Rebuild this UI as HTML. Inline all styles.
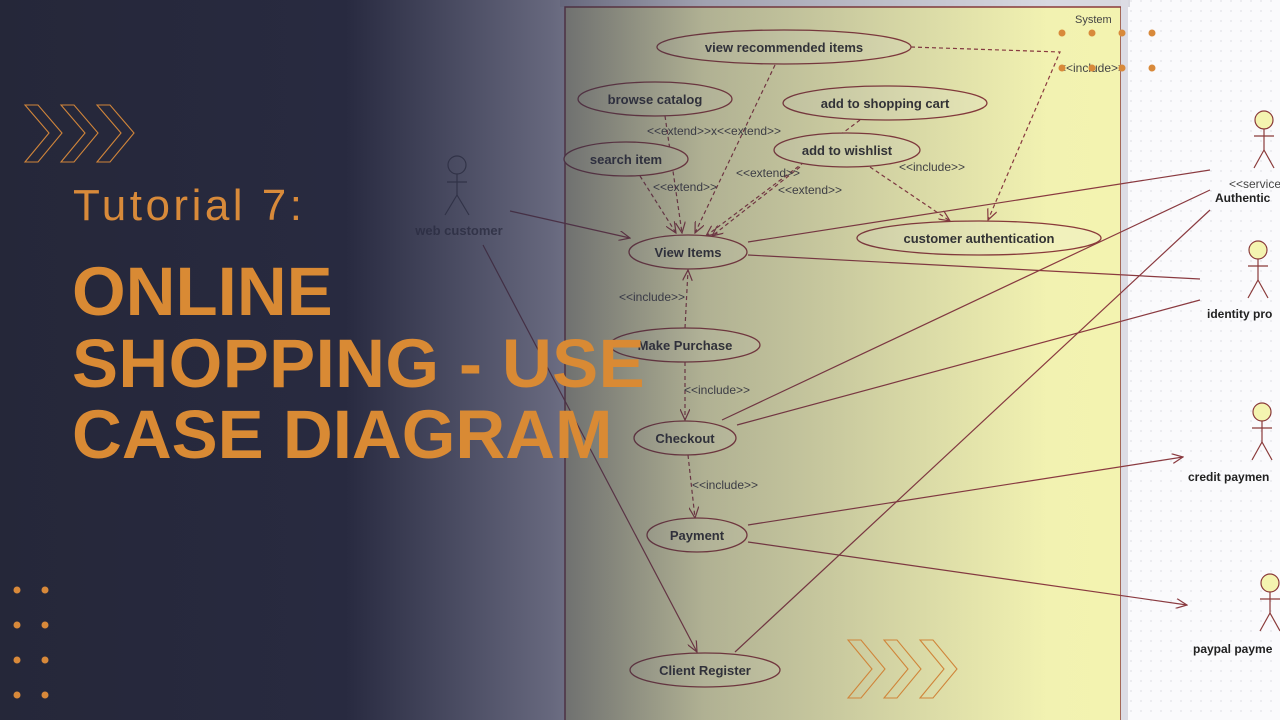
<!DOCTYPE html>
<html><head><meta charset="utf-8"><style>
html,body{margin:0;padding:0;width:1280px;height:720px;overflow:hidden;background:#fff}
svg{position:absolute;left:0;top:0}
</style></head><body>
<svg width="1280" height="720" viewBox="0 0 1280 720" font-family="Liberation Sans, sans-serif">
<defs>
<pattern id="grid" width="10" height="10" patternUnits="userSpaceOnUse"><rect width="10" height="10" fill="#fafafc"/><circle cx="1" cy="1" r="0.6" fill="#c8c8d4"/></pattern>
<linearGradient id="yel" x1="0" x2="1" y1="0" y2="0"><stop offset="0" stop-color="#eeeeb8"/><stop offset="1" stop-color="#f3f3b0"/></linearGradient>
<linearGradient id="ov" x1="0" x2="1280" y1="0" y2="0" gradientUnits="userSpaceOnUse">
<stop offset="0" stop-color="#252739" stop-opacity="1"/>
<stop offset="0.27" stop-color="#282a40" stop-opacity="1"/>
<stop offset="0.43" stop-color="#2a2c48" stop-opacity="0.68"/>
<stop offset="0.55" stop-color="#2a2c48" stop-opacity="0.32"/>
<stop offset="0.82" stop-color="#2a2c48" stop-opacity="0"/>
</linearGradient>
<marker id="ah" markerWidth="12" markerHeight="10" refX="11" refY="5" orient="auto" markerUnits="userSpaceOnUse"><path d="M0,0 L11,5 L0,10" fill="none" stroke="#8a3a40" stroke-width="1.2"/></marker>
</defs>
<rect width="1280" height="720" fill="url(#grid)"/>
<rect x="0" y="0" width="565" height="720" fill="#e6e6ee"/>
<rect x="560" y="0" width="570" height="7" fill="#d8d8e0"/>
<rect x="565" y="7" width="556" height="720" fill="url(#yel)" stroke="#8a3a3a" stroke-width="1.5"/>
<rect x="1121" y="0" width="7" height="720" fill="#dcdce4"/>
<text x="1075" y="23" font-size="11" fill="#444">System</text>

<g stroke="#8a3a40" stroke-width="1.2" fill="none">
<line x1="510" y1="211" x2="630" y2="238" marker-end="url(#ah)"/>
<line x1="483" y1="245" x2="697" y2="652" marker-end="url(#ah)"/>
<line x1="748" y1="242" x2="1210" y2="170"/>
<line x1="748" y1="255" x2="1200" y2="279"/>
<line x1="722" y1="420" x2="1210" y2="190"/>
<line x1="737" y1="425" x2="1200" y2="300"/>
<line x1="748" y1="525" x2="1183" y2="457" marker-end="url(#ah)"/>
<line x1="748" y1="542" x2="1187" y2="605" marker-end="url(#ah)"/>
<line x1="735" y1="652" x2="1210" y2="210"/>
</g>
<g stroke="#8a3a40" stroke-width="1.2" fill="none" stroke-dasharray="4,3">
<line x1="775" y1="65" x2="695" y2="233" marker-end="url(#ah)"/>
<line x1="665" y1="116" x2="682" y2="233" marker-end="url(#ah)"/>
<line x1="640" y1="176" x2="676" y2="233" marker-end="url(#ah)"/>
<line x1="860" y1="120" x2="706" y2="236" marker-end="url(#ah)"/>
<line x1="800" y1="167" x2="712" y2="236" marker-end="url(#ah)"/>
<line x1="870" y1="167" x2="950" y2="221" marker-end="url(#ah)"/>
<polyline points="911,47 1060,52 988,220" marker-end="url(#ah)"/>
<line x1="685" y1="328" x2="688" y2="270" marker-end="url(#ah)"/>
<line x1="685" y1="362" x2="685" y2="420" marker-end="url(#ah)"/>
<line x1="688" y1="455" x2="695" y2="518" marker-end="url(#ah)"/>
</g>

<g fill="#f1f1bc" stroke="#8a3a3a" stroke-width="1.3">
<ellipse cx="784" cy="47" rx="127" ry="17"/>
<ellipse cx="655" cy="99" rx="77" ry="17"/>
<ellipse cx="885" cy="103" rx="102" ry="17"/>
<ellipse cx="626" cy="159" rx="62" ry="17"/>
<ellipse cx="847" cy="150" rx="73" ry="17"/>
<ellipse cx="979" cy="238" rx="122" ry="17"/>
<ellipse cx="688" cy="252" rx="59" ry="17"/>
<ellipse cx="685" cy="345" rx="75" ry="17"/>
<ellipse cx="685" cy="438" rx="51" ry="17"/>
<ellipse cx="697" cy="535" rx="50" ry="17"/>
<ellipse cx="705" cy="670" rx="75" ry="17"/>
</g>
<g font-size="13" font-weight="bold" fill="#333" text-anchor="middle">
<text x="784" y="52">view recommended items</text>
<text x="655" y="104">browse catalog</text>
<text x="885" y="108">add to shopping cart</text>
<text x="626" y="164">search item</text>
<text x="847" y="155">add to wishlist</text>
<text x="979" y="243">customer authentication</text>
<text x="688" y="257">View Items</text>
<text x="685" y="350">Make Purchase</text>
<text x="685" y="443">Checkout</text>
<text x="697" y="540">Payment</text>
<text x="705" y="675">Client Register</text>
<text x="459" y="235" fill="#555">web customer</text>
</g>
<g font-size="12" fill="#444" text-anchor="middle">
<text x="714" y="135">&lt;&lt;extend&gt;&gt;x&lt;&lt;extend&gt;&gt;</text>
<text x="685" y="191">&lt;&lt;extend&gt;&gt;</text>
<text x="768" y="177">&lt;&lt;extend&gt;&gt;</text>
<text x="810" y="194">&lt;&lt;extend&gt;&gt;</text>
<text x="932" y="171">&lt;&lt;include&gt;&gt;</text>
<text x="652" y="301">&lt;&lt;include&gt;&gt;</text>
<text x="717" y="394">&lt;&lt;include&gt;&gt;</text>
<text x="725" y="489">&lt;&lt;include&gt;&gt;</text>
<text x="1092" y="72">&lt;&lt;include&gt;&gt;</text>
<text x="1255" y="188">&lt;&lt;service</text>
</g>
<g font-size="12" font-weight="bold" fill="#222">
<text x="1215" y="202">Authentic</text>
<text x="1207" y="318">identity pro</text>
<text x="1188" y="481">credit paymen</text>
<text x="1193" y="653">paypal payme</text>
</g>
<g stroke="#8a3a3a" stroke-width="1.2" fill="#f4f4b0">
<g transform="translate(1264,120)"><circle r="9"/><line x1="0" y1="9" x2="0" y2="30"/><line x1="-10" y1="16" x2="10" y2="16"/><line x1="0" y1="30" x2="-10" y2="48"/><line x1="0" y1="30" x2="10" y2="48"/></g>
<g transform="translate(1258,250)"><circle r="9"/><line x1="0" y1="9" x2="0" y2="30"/><line x1="-10" y1="16" x2="10" y2="16"/><line x1="0" y1="30" x2="-10" y2="48"/><line x1="0" y1="30" x2="10" y2="48"/></g>
<g transform="translate(1262,412)"><circle r="9"/><line x1="0" y1="9" x2="0" y2="30"/><line x1="-10" y1="16" x2="10" y2="16"/><line x1="0" y1="30" x2="-10" y2="48"/><line x1="0" y1="30" x2="10" y2="48"/></g>
<g transform="translate(1270,583)"><circle r="9"/><line x1="0" y1="9" x2="0" y2="30"/><line x1="-10" y1="16" x2="10" y2="16"/><line x1="0" y1="30" x2="-10" y2="48"/><line x1="0" y1="30" x2="10" y2="48"/></g>
<g transform="translate(457,165)" stroke="#555" fill="none"><circle r="9"/><line x1="0" y1="9" x2="0" y2="30"/><line x1="-10" y1="17" x2="10" y2="17"/><line x1="0" y1="30" x2="-12" y2="50"/><line x1="0" y1="30" x2="12" y2="50"/></g>
</g>

<rect width="1280" height="720" fill="url(#ov)"/>

<g fill="none" stroke="#d0853a" stroke-width="1.1">
<path d="M25,105 L38,105 L62,133 L38,162 L25,162 L49,133 Z"/>
<path d="M61,105 L74,105 L98,133 L74,162 L61,162 L85,133 Z"/>
<path d="M97,105 L110,105 L134,133 L110,162 L97,162 L121,133 Z"/>
<path d="M848,640 L861,640 L885,669 L861,698 L848,698 L872,669 Z"/>
<path d="M884,640 L897,640 L921,669 L897,698 L884,698 L908,669 Z"/>
<path d="M920,640 L933,640 L957,669 L933,698 L920,698 L944,669 Z"/>
</g>
<g fill="#d8893a">
<circle cx="17" cy="590" r="3.5"/><circle cx="45" cy="590" r="3.5"/>
<circle cx="17" cy="625" r="3.5"/><circle cx="45" cy="625" r="3.5"/>
<circle cx="17" cy="660" r="3.5"/><circle cx="45" cy="660" r="3.5"/>
<circle cx="17" cy="695" r="3.5"/><circle cx="45" cy="695" r="3.5"/>
<circle cx="1062" cy="33" r="3.5"/><circle cx="1092" cy="33" r="3.5"/><circle cx="1122" cy="33" r="3.5"/><circle cx="1152" cy="33" r="3.5"/>
<circle cx="1062" cy="68" r="3.5"/><circle cx="1092" cy="68" r="3.5"/><circle cx="1122" cy="68" r="3.5"/><circle cx="1152" cy="68" r="3.5"/>
</g>
<text x="73" y="220" font-size="44" fill="#d88a3a" letter-spacing="3.5">Tutorial 7:</text>
<g font-size="69" font-weight="bold" fill="#d98a34">
<text x="72" y="315">ONLINE</text>
<text x="72" y="387" letter-spacing="0.4">SHOPPING - USE</text>
<text x="72" y="458">CASE DIAGRAM</text>
</g>
</svg>
</body></html>
